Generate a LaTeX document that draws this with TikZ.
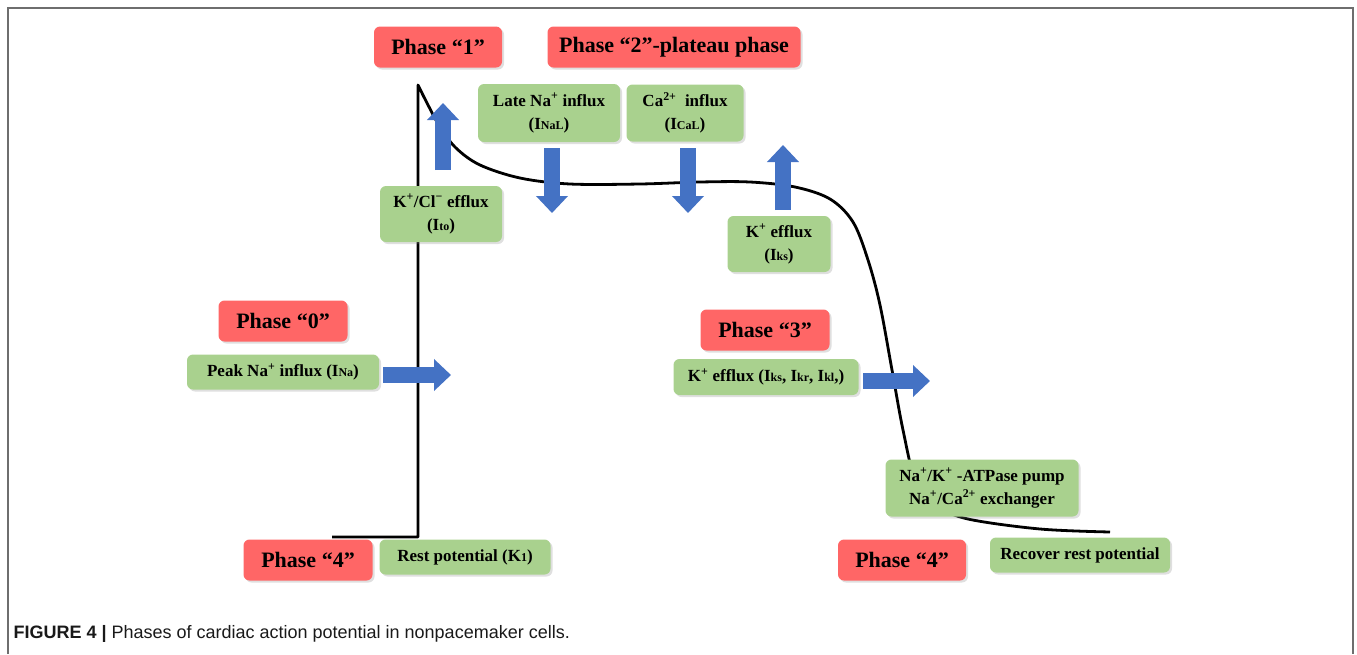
\documentclass[tikz,border=0pt]{standalone}
\usepackage{fontspec}
\setmainfont{Liberation Serif}
\setsansfont{Liberation Sans}
\usetikzlibrary{arrows.meta,shadows}
\definecolor{PhaseClr}{RGB}{255,102,102}
\definecolor{IonClr}{RGB}{169,209,142}
\definecolor{FluxClr}{RGB}{68,114,196}
\definecolor{FrameClr}{RGB}{110,110,110}
\newcommand\ionsub[1]{{\fontsize{12}{12}\selectfont #1}}

\begin{document}
\begin{tikzpicture}[x=1pt,y=-1pt,
  phase/.style={rounded corners=6pt,fill=PhaseClr,inner sep=0pt,minimum height=41pt,
    font=\fontsize{22}{24}\selectfont\bfseries,
    drop shadow={opacity=.25,shadow xshift=2pt,shadow yshift=-2pt}},
  ion/.style={rounded corners=6pt,fill=IonClr,inner sep=0pt,align=center,
    font=\fontsize{17}{23}\selectfont\bfseries,
    drop shadow={opacity=.25,shadow xshift=2pt,shadow yshift=-2pt}},
  flux/.style={line width=16pt,FluxClr,-{Triangle[width=31pt,length=17pt]}},
  ap/.style={line width=2.8pt,line join=round}]

\useasboundingbox (0,0) rectangle (1357,654);
\draw[FrameClr,line width=1.5pt] (8,654) -- (8,8) -- (1353,8) -- (1353,654);

% action potential
\coordinate (rest) at (332,537);
\coordinate (foot) at (418,537);
\coordinate (peak) at (418,85);
\draw[ap] (rest) -- (foot) -- (peak)
  -- plot[smooth,tension=.55] coordinates {(418,85) (427,103) (440,127) (456,148)
    (480,165) (520,178) (570,184) (640,184) (700,182) (750,182) (795,187) (830,199)
    (853,222) (868,260) (880,305) (892,370) (903,430) (916,482) (938,506) (968,519)
    (1040,529) (1110,532)};

% phases
\node[phase,minimum width=128pt] (ph1) at (438,47) {Phase “1”};
\node[phase,minimum width=253pt] (ph2) at (674,47) {Phase “2”-plateau phase};
\node[phase,minimum width=129pt] (ph0) at (283,321) {Phase “0”};
\node[phase,minimum width=129pt] (ph3) at (765,330) {Phase “3”};
\node[phase,minimum width=129pt] (ph4a) at (308,560) {Phase “4”};
\node[phase,minimum width=128pt] (ph4b) at (902,560) {Phase “4”};

% currents
\node[ion,minimum width=142pt,minimum height=58pt] (nal) at (549,113)
  {Late Na\textsuperscript{+} influx\\(I\ionsub{NaL})};
\node[ion,minimum width=117pt,minimum height=57pt] (cal) at (685,113)
  {Ca\textsuperscript{2+}\ \ influx\\(I\ionsub{CaL})};
\node[ion,minimum width=122pt,minimum height=56pt] (ito) at (441,214)
  {K\textsuperscript{+}/Cl\textsuperscript{−} efflux\\(I\ionsub{to})};
\node[ion,minimum width=103pt,minimum height=56pt] (iks) at (779,244)
  {K\textsuperscript{+} efflux\\(I\ionsub{ks})};
\node[ion,minimum width=192pt,minimum height=35pt] (ina) at (283,372)
  {Peak Na\textsuperscript{+} influx (I\ionsub{Na})};
\node[ion,minimum width=185pt,minimum height=36pt] (ik) at (766,377)
  {K\textsuperscript{+} efflux (I\ionsub{ks}, I\ionsub{kr}, I\ionsub{kl},)};
\node[ion,minimum width=193pt,minimum height=57pt] (pump) at (982,488)
  {Na\textsuperscript{+}/K\textsuperscript{+} -ATPase pump\\Na\textsuperscript{+}/Ca\textsuperscript{2+} exchanger};
\node[ion,minimum width=171pt,minimum height=35pt] (k1) at (465,557)
  {Rest potential (K\ionsub{1})};
\node[ion,minimum width=180pt,minimum height=35pt] (rec) at (1080,555)
  {Recover rest potential};

% ion flux arrows
\coordinate (itoA) at (443,170); \coordinate (itoB) at (443,103);
\coordinate (nalA) at (552,148); \coordinate (nalB) at (552,213);
\coordinate (calA) at (688,148); \coordinate (calB) at (688,213);
\coordinate (iksA) at (783,210); \coordinate (iksB) at (783,145);
\coordinate (inaA) at (383,375); \coordinate (inaB) at (451,375);
\coordinate (ikA) at (863,381);  \coordinate (ikB) at (930,381);
\draw[flux] (itoA) -- (itoB);
\draw[flux] (nalA) -- (nalB);
\draw[flux] (calA) -- (calB);
\draw[flux] (iksA) -- (iksB);
\draw[flux] (inaA) -- (inaB);
\draw[flux] (ikA) -- (ikB);

\node[anchor=west,font=\sffamily\fontsize{18}{20}\selectfont,text=black!90] (caption) at (10,634)
  {\textbf{FIGURE 4 |} Phases of cardiac action potential in nonpacemaker cells.};
\end{tikzpicture}
\end{document}
